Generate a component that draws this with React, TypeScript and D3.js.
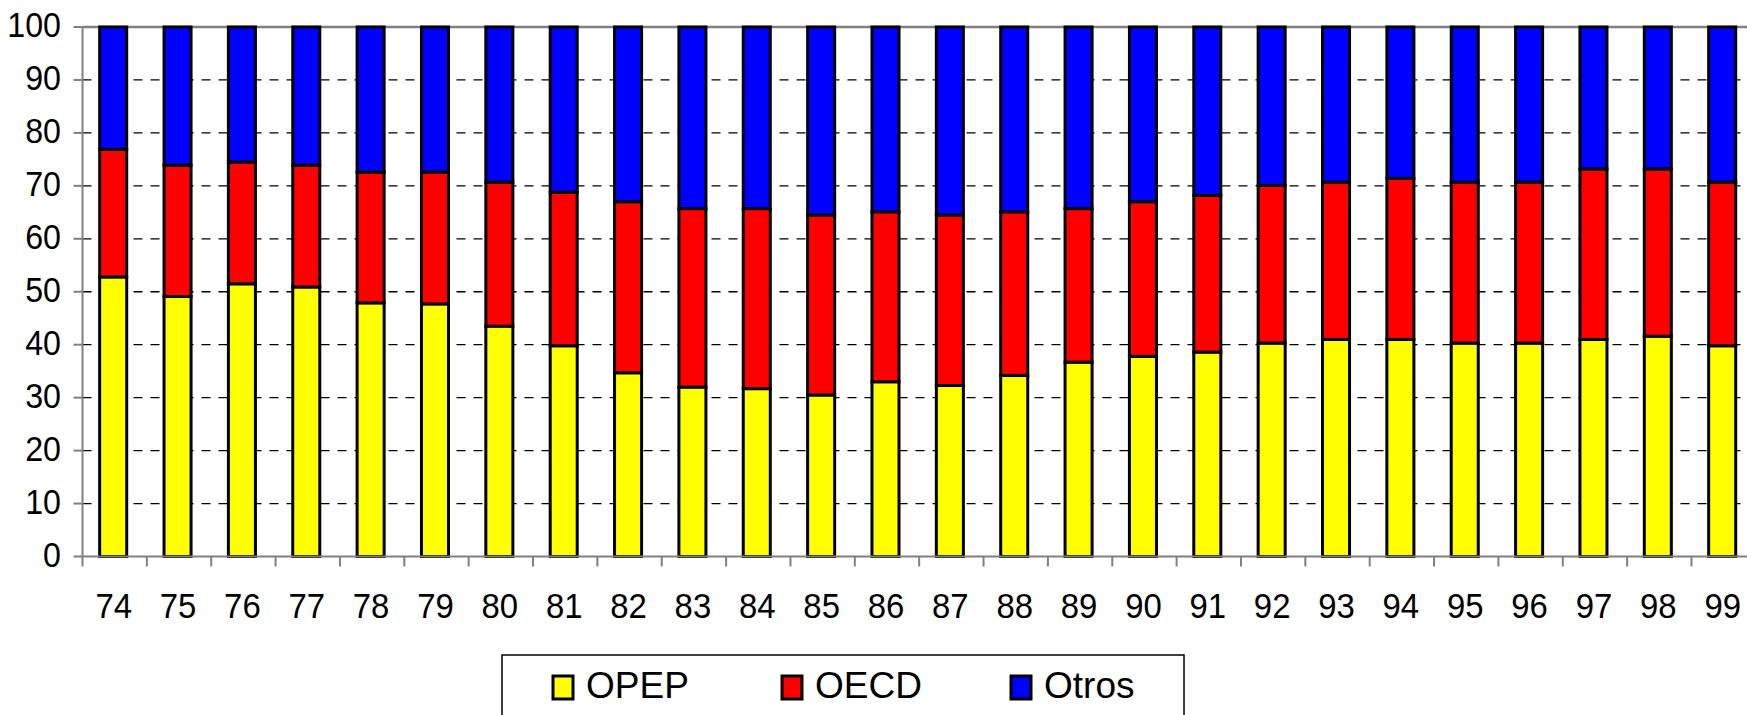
import React from "react";
import * as d3 from "d3";

const years = ["74","75","76","77","78","79","80","81","82","83","84","85","86","87","88","89","90","91","92","93","94","95","96","97","98","99"];
const opep = [52.8,49.1,51.5,50.9,47.9,47.7,43.5,39.8,34.7,32.0,31.7,30.5,33.0,32.3,34.2,36.7,37.8,38.6,40.3,41.0,41.0,40.3,40.3,41.0,41.6,39.8];
const oecd = [24.1,24.8,23.0,23.0,24.7,24.9,27.2,29.0,32.3,33.7,34.0,34.0,32.1,32.2,30.9,29.0,29.2,29.6,29.8,29.7,30.4,30.4,30.4,32.2,31.6,30.9];
const otros = [23.1,26.1,25.5,26.1,27.4,27.4,29.3,31.2,33.0,34.3,34.3,35.5,34.9,35.5,34.9,34.3,33.0,31.8,29.9,29.3,28.6,29.3,29.3,26.8,26.8,29.3];
const seriesNames = ["OPEP", "OECD", "Otros"];
const seriesColors = ["#ffff00", "#ff0000", "#0000ff"];
const yTicks = [0,10,20,30,40,50,60,70,80,90,100];

const W = 1747, H = 715;
const left = 82.5, top = 27, bottom = 556.5;
const band = 64.36;
const right = left + band * years.length;
const FONT = "'Liberation Sans', Arial, sans-serif";

export default function App() {
  const x = d3.scaleBand<string>().domain(years).range([left, right]).paddingInner(0.58).paddingOuter(0.29);
  const y = d3.scaleLinear().domain([0, 100]).range([bottom, top]);
  const rows = years.map((yr, i) => ({ yr, OPEP: opep[i], OECD: oecd[i], Otros: otros[i] }));
  const stack = d3.stack<any>().keys(seriesNames)(rows);
  const xb = d3.scaleBand<string>().domain(years).range([left, right]);

  return (
    <svg width={W} height={H} style={{ position: "absolute", left: 0, top: 0 }} fontFamily={FONT}>
      <rect x={0} y={0} width={W} height={H} fill="#fff" />
      {/* gridlines */}
      {yTicks.filter(t => t > 0 && t < 100).map(t => (
        <line key={"g" + t} x1={left} x2={right} y1={y(t)} y2={y(t)} stroke="#000" strokeWidth={1.3} strokeDasharray="9,8" />
      ))}
      <line x1={left} x2={right} y1={y(100)} y2={y(100)} stroke="#808080" strokeWidth={2.5} />
      {/* bars */}
      {stack.map((s, si) => (
        <g key={si}>
          {s.map((d, i) => (
            <rect key={i} x={(x(years[i]) as number) - 1.5} width={x.bandwidth()} y={y(d[1])} height={y(d[0]) - y(d[1])}
              fill={seriesColors[si]} stroke="#000" strokeWidth={3} />
          ))}
        </g>
      ))}
      {/* axes */}
      <line x1={left} x2={left} y1={top} y2={bottom} stroke="#808080" strokeWidth={2} />
      <line x1={left} x2={right} y1={bottom} y2={bottom} stroke="#808080" strokeWidth={2} />
      {yTicks.map(t => (
        <g key={"y" + t}>
          <line x1={left - 9} x2={left} y1={y(t)} y2={y(t)} stroke="#808080" strokeWidth={2} />
          <text transform={`translate(61,${y(t) + 10}) scale(0.92,1)`} textAnchor="end" fontSize={35} fill="#000">{t}</text>
        </g>
      ))}
      {years.map((yr, i) => (
        <line key={"xt" + i} x1={(xb(yr) as number)} x2={(xb(yr) as number)} y1={bottom} y2={bottom + 10} stroke="#808080" strokeWidth={2} />
      ))}
      {years.map(yr => (
        <text key={"xl" + yr} transform={`translate(${(xb(yr) as number) + xb.bandwidth() / 2 - 1},618) scale(0.94,1)`} textAnchor="middle" fontSize={35} fill="#000">{yr}</text>
      ))}
      {/* legend */}
      <rect x={502} y={655} width={682} height={100} fill="#fff" stroke="#000" strokeWidth={1.5} />
      {seriesNames.map((n, i) => {
        const sx = [553, 782, 1011][i];
        return (
          <g key={n}>
            <rect x={sx} y={676} width={20} height={23} fill={seriesColors[i]} stroke="#000" strokeWidth={3} />
            <text x={sx + 33} y={698} fontSize={37} fill="#000">{n}</text>
          </g>
        );
      })}
    </svg>
  );
}
